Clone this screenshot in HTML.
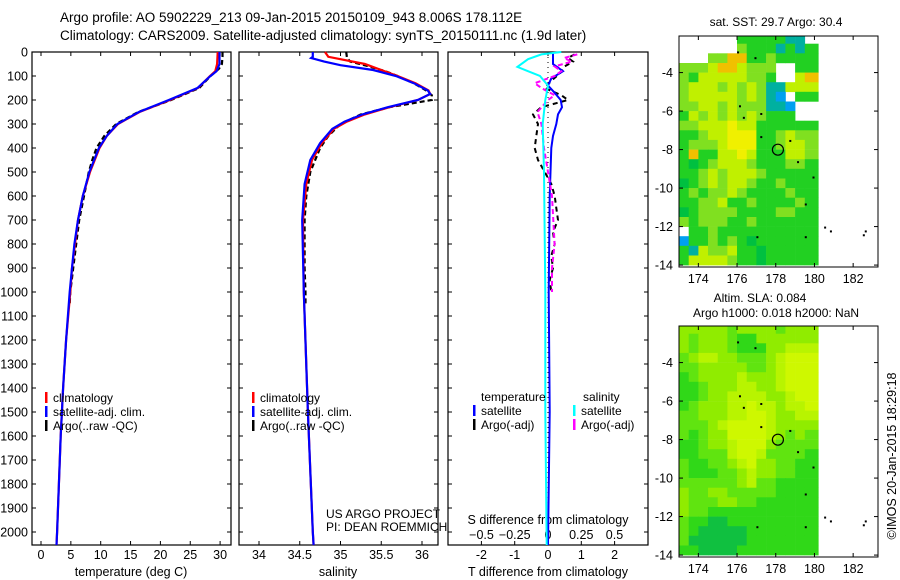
<!DOCTYPE html>
<html><head><meta charset="utf-8"><style>
body{margin:0;background:#fff}
svg{display:block;font-family:"Liberation Sans",sans-serif}
text{fill:#000}
</style></head><body>
<svg id="s" width="900" height="580" viewBox="0 0 900 580">
<text x="60" y="22" font-size="13.5">Argo profile: AO 5902229_213 09-Jan-2015 20150109_943 8.006S 178.112E</text>
<text x="60" y="40" font-size="13.5">Climatology: CARS2009. Satellite-adjusted climatology: synTS_20150111.nc (1.9d later)</text>
</svg>
<script>
// ---- data ----
const depthTicks=[0,100,200,300,400,500,600,700,800,900,1000,1100,1200,1300,1400,1500,1600,1700,1800,1900,2000];
const tTicks=[0,5,10,15,20,25,30];
const sTicks=[34,34.5,35,35.5,36];
const dtTicks=[-2,-1,0,1,2];
const dsTicks=[-0.5,-0.25,0,0.25,0.5];
const dsLabels=["-0.5","-0.25","0","0.25","0.5"];
const lonTicks=[174,176,178,180,182];
const latTicks=[-4,-6,-8,-10,-12,-14];

const tClimD=[0,50,80,100,150,200,250,300,350,400,500,600,700,800,900,1000,1200,1400,1600,1800,2000,2054];
const tClim=[29.6,29.5,29.2,28.3,26.3,21.6,16.5,12.9,11.0,9.8,8.2,7.0,6.2,5.7,5.2,4.9,4.2,3.7,3.3,3.0,2.7,2.6];
const tSat=[29.9,29.9,29.4,28.4,26.2,21.4,16.4,12.8,11.0,9.7,8.1,7.0,6.2,5.6,5.2,4.8,4.2,3.7,3.3,3.0,2.7,2.6];
const tArgoD=[0,20,50,70,100,150,200,250,300,350,400,450,500,600,700,800,900,1000,1050];
const tArgo=[30.4,30.4,30.3,29.8,28.4,26.5,21.8,16.3,12.6,10.6,9.3,8.6,8.0,7.2,6.4,5.9,5.4,4.9,4.8];

const sClimD=[0,20,30,50,75,100,130,160,175,200,230,260,290,320,380,450,550,700,1000,1500,2000,2054];
const sClim=[34.81,34.85,35.0,35.3,35.5,35.7,35.92,36.08,36.1,35.95,35.6,35.3,35.08,34.92,34.77,34.65,34.58,34.54,34.55,34.6,34.66,34.67];
const sSatD=[0,20,25,40,55,75,100,130,160,175,200,230,260,290,320,380,450,550,700,1000,1500,2000,2054];
const sSat=[34.66,34.66,34.64,34.8,35.0,35.4,35.68,35.9,36.07,36.1,35.95,35.58,35.27,35.05,34.9,34.75,34.63,34.56,34.53,34.55,34.6,34.66,34.67];
const sArgoD=[0,25,40,60,80,100,130,160,180,200,230,260,300,350,400,500,600,700,800,900,1000,1050];
const sArgo=[35.07,35.08,35.12,35.35,35.55,35.7,35.9,36.05,36.12,36.12,35.6,35.25,35.0,34.85,34.75,34.63,34.58,34.56,34.56,34.56,34.57,34.57];

const dTSatD=[0,50,80,110,140,170,200,230,260,300,350,400,600,1000,1500,2054];
const dTSat=[0.15,0.15,0.45,0.1,0.0,0.2,0.38,0.42,0.3,0.25,0.15,0.1,0.05,0.02,0.05,0.0];
const dSSatD=[0,10,30,62,80,100,140,170,200,300,500,1000,1500,2054];
const dSSat=[0.1,-0.05,-0.15,-0.23,-0.15,-0.06,0.0,-0.01,-0.02,-0.04,-0.03,-0.02,-0.02,-0.01];
const dTArgoD=[10,25,40,60,90,120,150,180,200,230,260,300,350,400,450,500,550,600,650,700,750,800,850,900,950,1000];
const dTArgo=[0.8,0.6,0.75,0.5,0.35,0.1,-0.1,0.4,0.6,-0.2,-0.45,-0.3,-0.35,-0.4,-0.3,-0.1,0.1,0.2,0.25,0.3,0.15,0.2,0.1,0.15,0.05,0.1];
const dSArgoD=[10,25,40,60,80,100,130,150,180,200,250,300,400,500,600,700,800,900,1000];
const dSArgo=[0.22,0.12,0.18,0.05,0.1,0.05,-0.1,-0.05,0.05,0.0,-0.08,-0.05,-0.03,0.0,0.03,0.04,0.05,0.03,0.03];

const sstRows=["00000022222770","00000032227272","00033662232222","33346643330022","32444443320046","34443434377444","34444434378022","33443433377800","24343434322200","33444544222222","22344555223433","23334555223443","26224454222443","21234443222332","22343444322222","12343443223222","23233432222322","22334223222232","12333322223322","32333223222222","02232222222222","82232321222222","27433422122222","24444322122222"];
const slaRows=["44444344443444","43444322444444","43444322244555","34554433345666","33444443345666","23444454445666","22344455445666","22344555544566","23444556554556","33444556654455","33345666654444","32344666654343","22344566643333","22333566533332","32233456443322","32223345443322","33333345332222","43344333332222","43334433222222","43322222222222","32211222222222","32111112222222","31111112222222","22111122222222"];
const sstPal=["none","#00c040","#22d022","#80e020","#c0f000","#f0f000","#f0c000","#00b0a0","#00a0f0"];
const slaPal=["none","#10c040","#30d818","#60e410","#90ec00","#b8f400","#cef800"];
const argoLon=178.112, argoLat=-8.006;

// ---- helpers ----
const S=document.getElementById('s'),NS='http://www.w3.org/2000/svg';
function mk(t,a,p){const e=document.createElementNS(NS,t);for(const k in a)e.setAttribute(k,a[k]);(p||S).appendChild(e);return e;}
const top0=52,bot=545,dPx=0.24;
const yD=d=>top0+d*dPx;
const xT=v=>41+v*5.97, xS=v=>259+(v-34)*81.5, xDT=v=>548+v*33.3, xDS=v=>548+v*133;
const panels=[[32,231],[239,438],[448,648]];
function txt(x,y,s,fs,anchor,name){const e=mk('text',{x:x,y:y,'font-size':fs,'text-anchor':anchor||'start'});e.textContent=s;

return e;}
function line(D,V,fx,col,w,dash,name){let p='';for(let i=0;i<D.length;i++)p+=(i?'L':'M')+fx(V[i]).toFixed(1)+','+yD(D[i]).toFixed(1);
const e=mk('path',{d:p,fill:'none',stroke:col,'stroke-width':w});if(dash)e.setAttribute('stroke-dasharray',dash);

}

// frames & depth ticks
panels.forEach((p,i)=>{const r=mk('rect',{x:p[0],y:top0,width:p[1]-p[0],height:bot-top0,fill:'none',stroke:'#000','stroke-width':1.2});


depthTicks.forEach(d=>{mk('line',{x1:p[0],x2:p[0]+4,y1:yD(d),y2:yD(d),stroke:'#000'});mk('line',{x1:p[1]-4,x2:p[1],y1:yD(d),y2:yD(d),stroke:'#000'});});});
depthTicks.forEach(d=>txt(28,yD(d)+4.5,String(d),12.5,'end','depth-tick-label'));
function xticks(ticks,labels,fx,name){ticks.forEach((v,i)=>{const x=fx(v);mk('line',{x1:x,x2:x,y1:bot,y2:bot-4,stroke:'#000'});mk('line',{x1:x,x2:x,y1:top0,y2:top0+4,stroke:'#000'});
txt(x,559,labels[i],12.5,'middle',name);});}
xticks(tTicks,tTicks.map(String),xT,'temperature-tick-label');
xticks(sTicks,sTicks.map(String),xS,'salinity-tick-label');
xticks(dtTicks,dtTicks.map(String),xDT,'t-diff-tick-label');
dsTicks.forEach((v,i)=>{const x=xDS(v);txt(x,539,dsLabels[i].replace('-','\u2212'),12.5,'middle','s-diff-tick-label');});
txt(131,576,'temperature (deg C)',12.5,'middle','temperature-axis-title');
txt(338,576,'salinity',12.5,'middle','salinity-axis-title');
txt(548,576,'T difference from climatology',12.5,'middle','t-diff-axis-title');
txt(548,524,'S difference from climatology',12.5,'middle','s-diff-axis-title');
txt(326,518,'US ARGO PROJECT',12,'start','project-label');
txt(326,531,'PI: DEAN ROEMMICH',12,'start','pi-label');
mk('line',{x1:548,x2:548,y1:top0,y2:bot,stroke:'#000','stroke-dasharray':'1,4'});

// profiles
line(tArgoD,tArgo,xT,'#000',2.2,'5,3','temperature-argo-line');
line(tClimD,tClim,xT,'#f00',2.2,null,'temperature-climatology-line');
line(tClimD,tSat,xT,'#00f',2.2,null,'temperature-satellite-line');
line(sArgoD,sArgo,xS,'#000',2.2,'5,3','salinity-argo-line');
line(sClimD,sClim,xS,'#f00',2.2,null,'salinity-climatology-line');
line(sSatD,sSat,xS,'#00f',2.2,null,'salinity-satellite-line');
line(dTArgoD,dTArgo,xDT,'#000',2,'5,4','t-diff-argo-line');
line(dTSatD,dTSat,xDT,'#00f',2,null,'t-diff-satellite-line');
line(dSArgoD,dSArgo,xDS,'#f0f',2,'5,3','s-diff-argo-line');
line(dSSatD,dSSat,xDS,'#0ff',2,null,'s-diff-satellite-line');

// legends
function leg(x,y,col,label,name){const r=mk('rect',{x:x,y:y-10,width:2.5,height:11,fill:col});


txt(x+8,y,label,12,'start',name);}
[[45],[252]].forEach(([x],i)=>{leg(x,402,'#f00','climatology','legend-climatology');leg(x,416,'#00f','satellite-adj. clim.','legend-satellite');leg(x,430,'#000','Argo(..raw -QC)','legend-argo');});
txt(481,401,'temperature',12,'start','legend-temperature-heading');
txt(583,401,'salinity',12,'start','legend-salinity-heading');
leg(473,415,'#00f','satellite','legend-t-satellite');leg(473,429,'#000','Argo(-adj)','legend-t-argo');
leg(573,415,'#0ff','satellite','legend-s-satellite');leg(573,429,'#f0f','Argo(-adj)','legend-s-argo');

// maps
const mx0=679,mx1=878,lon0=173,pxLon=19.35,pxLat=19.25;
const xL=l=>mx0+(l-lon0)*pxLon;
function map(y0,rows,pal,name){const latTop=-2.1;const yL=la=>y0+(latTop-la)*pxLat;const y1=y0+231;
const g=mk('g',{});
rows.forEach((r,i)=>{const la=-2-0.5*i;[...r].forEach((c,j)=>{const v=+c;if(!v)return;const lo=173+0.5*j;
const x=xL(lo),xe=j==r.length-1?xL(180.2):xL(lo+0.5);const yt=Math.max(y0,yL(la)),yb=Math.min(y1,yL(la-0.5));
const e=mk('rect',{x:x.toFixed(1),y:yt.toFixed(1),width:(xe-x+0.3).toFixed(1),height:(yb-yt+0.3).toFixed(1),fill:pal[v]},g);

});});
const f=mk('rect',{x:mx0,y:y0,width:mx1-mx0,height:231,fill:'none',stroke:'#000'});

lonTicks.forEach(l=>{const x=xL(l);mk('line',{x1:x,x2:x,y1:y0,y2:y0+4,stroke:'#000'});mk('line',{x1:x,x2:x,y1:y1,y2:y1-4,stroke:'#000'});txt(x,y1+16,String(l),12.5,'middle','map-lon-label');});
latTicks.forEach(la=>{const y=yL(la);mk('line',{x1:mx0,x2:mx0+4,y1:y,y2:y,stroke:'#000'});mk('line',{x1:mx1,x2:mx1-4,y1:y,y2:y,stroke:'#000'});txt(673,y+4.5,String(la),12.5,'end','map-lat-label');});
const c=mk('circle',{cx:xL(argoLon),cy:yL(argoLat),r:5.5,fill:'none',stroke:'#000','stroke-width':1.2});

[[176,-2.9],[176.9,-3.2],[176.1,-5.7],[176.3,-6.3],[177.2,-6.1],[177.2,-7.3],[178.7,-7.5],[179.1,-8.6],[179.9,-9.4],[179.5,-10.8],[177,-12.5],[179.5,-12.5],[180.5,-12],[180.8,-12.2],[182.5,-12.4],[182.6,-12.2]].forEach(([lo,la])=>mk('rect',{x:xL(lo),y:yL(la),width:2,height:2,fill:'#000'}));}
map(36,sstRows,sstPal,'sst-map');
map(326,slaRows,slaPal,'sla-map');
txt(776,26,'sat. SST: 29.7 Argo: 30.4',12,'middle','sst-map-title');
txt(760,302,'Altim. SLA: 0.084',12,'middle','sla-map-title-1');
txt(776,317,'Argo h1000: 0.018 h2000: NaN',12,'middle','sla-map-title-2');
const v=txt(0,0,'\u00a9IMOS 20-Jan-2015 18:29:18',12.5,'middle','timestamp-label');v.setAttribute('transform','translate(896,456) rotate(-90)');
</script>
</body></html>
